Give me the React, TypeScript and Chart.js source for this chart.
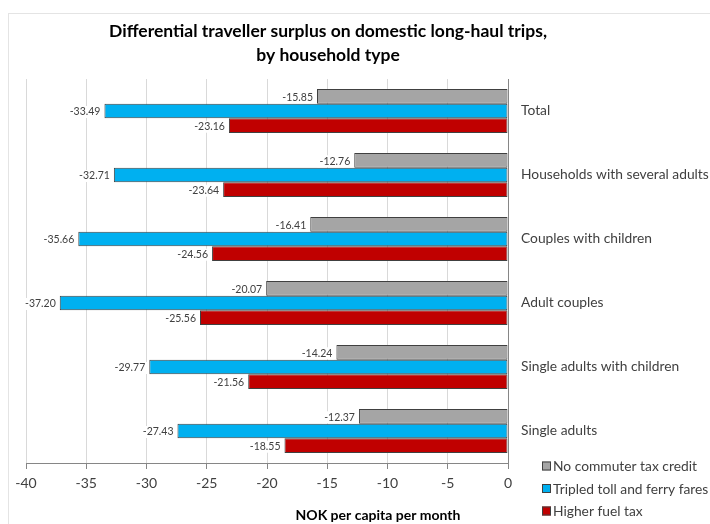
import React, { useEffect, useRef } from "react";
import { Chart, registerables } from "chart.js";

Chart.register(...registerables);

const categories = [
  "Total",
  "Households with several adults",
  "Couples with children",
  "Adult couples",
  "Single adults with children",
  "Single adults",
];
const seriesNames = ["No commuter tax credit", "Tripled toll and ferry fares", "Higher fuel tax"];
const noCommuterCredit = [-15.85, -12.76, -16.41, -20.07, -14.24, -12.37];
const tripledToll = [-33.49, -32.71, -35.66, -37.2, -29.77, -27.43];
const higherFuelTax = [-23.16, -23.64, -24.56, -25.56, -21.56, -18.55];
const seriesColors = ["#a5a5a5", "#00b0f0", "#c00000"];
const titleLines = ["Differential traveller surplus on domestic long-haul trips,", "by household type"];
const xAxisTitle = "NOK per capita per month";
const xMin = -40;
const xMax = 0;
const xStep = 5;

const FONT = "Lato, 'Open Sans', sans-serif";
const TEXT = "#404040";

export default function App() {
  const ref = useRef<HTMLCanvasElement>(null);
  useEffect(() => {
    if (!ref.current) return;
    const overlay = {
      id: "overlay",
      afterDatasetsDraw(chart: any) {
        const ctx = chart.ctx;
        ctx.save();
        ctx.font = `10.5px ${FONT}`;
        ctx.textBaseline = "middle";
        ctx.textAlign = "right";
        chart.data.datasets.forEach((ds: any, di: number) => {
          const meta = chart.getDatasetMeta(di);
          meta.data.forEach((el: any, i: number) => {
            const v = ds.data[i] as number;
            const txt = v.toFixed(2);
            const w = ctx.measureText(txt).width;
            const x = el.x - 4;
            const y = el.y + 1;
            ctx.fillStyle = "#ffffff";
            ctx.fillRect(x - w - 2, y - 6, w + 4, 12);
            ctx.fillStyle = TEXT;
            ctx.fillText(txt, x, y);
          });
        });
        ctx.restore();
      },
      afterDraw(chart: any) {
        const ctx = chart.ctx;
        ctx.save();
        ctx.fillStyle = "#000000";
        ctx.font = `bold 17.5px ${FONT}`;
        ctx.textAlign = "center";
        ctx.textBaseline = "middle";
        ctx.fillText(titleLines[0], 328, 31);
        ctx.fillText(titleLines[1], 328, 55);
        ctx.font = `bold 14px ${FONT}`;
        ctx.fillText(xAxisTitle, 378, 515);
        ctx.font = `13.8px ${FONT}`;
        ctx.textAlign = "left";
        seriesNames.forEach((name, i) => {
          const y = 466 + i * 22.5;
          ctx.fillStyle = seriesColors[i];
          ctx.fillRect(542, y - 4.5, 9, 9);
          ctx.strokeStyle = "#404040";
          ctx.lineWidth = 1;
          ctx.strokeRect(542.5, y - 4, 8, 8);
          ctx.fillStyle = TEXT;
          ctx.fillText(name, 553, y + 1);
        });
        ctx.restore();
      },
    };

    const chart = new Chart(ref.current, {
      type: "bar",
      data: {
        labels: categories,
        datasets: [
          { label: seriesNames[0], data: noCommuterCredit, backgroundColor: seriesColors[0] },
          { label: seriesNames[1], data: tripledToll, backgroundColor: seriesColors[1] },
          { label: seriesNames[2], data: higherFuelTax, backgroundColor: seriesColors[2] },
        ].map((d) => ({
          ...d,
          borderColor: "#404040",
          borderWidth: 1,
          borderSkipped: false,
          categoryPercentage: 0.69,
          barPercentage: 1,
        })),
      },
      options: {
        indexAxis: "y",
        animation: false,
        responsive: false,
        maintainAspectRatio: false,
        layout: { padding: { left: 26, top: 79, right: 0, bottom: 0 } },
        plugins: {
          legend: { display: false },
          title: { display: false },
          tooltip: { enabled: false },
        },
        scales: {
          x: {
            min: xMin,
            max: xMax,
            ticks: {
              stepSize: xStep,
              color: TEXT,
              font: { family: FONT, size: 14 },
              padding: 6,
            },
            grid: {
              color: "#d9d9d9",
              drawTicks: true,
              tickLength: 6,
              tickColor: "#868686",
            },
            border: { color: "#868686", width: 1 },
            afterFit(scale: any) {
              scale.height = 524 - 463;
            },
          },
          y: {
            position: "right",
            ticks: {
              color: TEXT,
              font: { family: FONT, size: 13.8 },
              padding: 13,
            },
            grid: { display: false, drawTicks: false },
            border: { color: "#868686", width: 1 },
            afterFit(scale: any) {
              scale.width = 710 - 508;
            },
          },
        },
      } as any,
      plugins: [overlay],
    });
    return () => chart.destroy();
  }, []);

  return (
    <div style={{ position: "absolute", left: 0, top: 0, width: 710, height: 524, background: "#fff", overflow: "hidden" }}>
      <div
        style={{
          position: "absolute",
          left: 8,
          top: 13,
          width: 710,
          height: 524,
          borderLeft: "1px solid #e4e4e4",
          borderTop: "1px solid #e4e4e4",
        }}
      />
      <canvas ref={ref} width={710} height={524} style={{ position: "absolute", left: 0, top: 0, width: 710, height: 524 }} />
    </div>
  );
}
